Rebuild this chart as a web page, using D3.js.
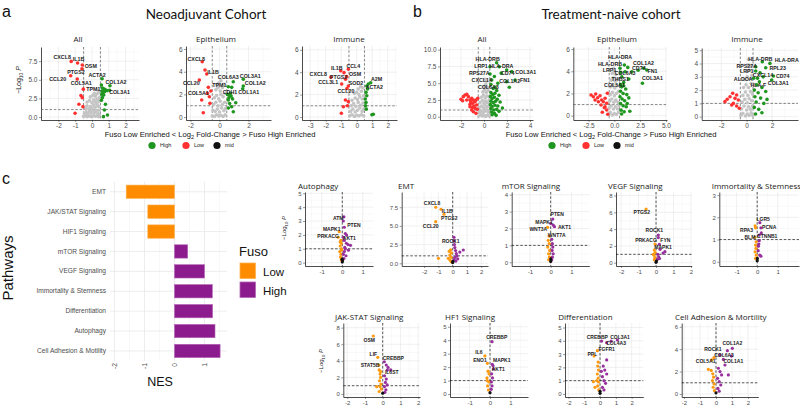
<!DOCTYPE html>
<html><head><meta charset="utf-8">
<script src="https://cdn.jsdelivr.net/npm/d3@7/dist/d3.min.js"></script>
<style>body{margin:0;background:#fff;}svg{display:block;}</style>
</head><body>
<script>
// ================= DATA =================
// volcano points: [log2 fold-change, -log10 P, optional gene label]
// ---- a: Neoadjuvant cohort ----
const aAllMid = [[-0.5,0.1],[-0.4,0.2],[-0.3,0.05],[-0.2,0.15],[-0.1,0.1],[0,0.05],[0.1,0.2],[0.2,0.1],[0.3,0.15],[0.4,0.05],[0.45,0.3],
 [-0.45,0.5],[-0.35,0.7],[-0.25,0.45],[-0.15,0.8],[-0.05,0.55],[0.05,0.9],[0.15,0.6],[0.25,0.85],[0.35,0.5],[0.42,0.9],
 [-0.4,1.2],[-0.3,1.5],[-0.2,1.1],[-0.1,1.4],[0,1.2],[0.1,1.6],[0.2,1.3],[0.3,1.7],[0.4,1.4],
 [-0.3,2.0],[-0.15,2.2],[0,1.9],[0.1,2.3],[0.2,2.0],[0.3,2.4],[0.4,2.1],[0.45,2.6],
 [-0.1,2.7],[0.05,2.9],[0.2,2.8],[0.3,3.1],[0.4,3.3],[0.35,3.6],[0.15,3.2]];
const aAllLow = [[-1.24,7.47,"CXCL8"],[-0.86,7.25,"IL1B"],[-0.58,6.98,"OSM"],[-0.6,6.49,"PTGS2"],[-1.27,5.54,"CCL20"],[-0.88,5.09,"COL5A1"],
 [-0.52,3.74],[-0.66,2.88],[-0.58,2.6],[-0.78,1.71],[-0.54,1.39],[-1.01,0.5]];
const aAllHigh = [[0.6,5.14,"ACTA2"],[1.07,4.2,"COL1A2"],[1.05,3.6,"COL3A1"],[0.62,3.9,"TPM1"],[0.56,4.3],[0.7,3.8],[0.78,3.7],[0.6,3.5],[0.66,3.3],
 [0.75,3.4],[0.9,3.55],[0.58,3.05],[0.7,2.95],[0.62,2.6],[0.56,2.25],[0.8,1.7],[0.74,0.95],[0.92,0.27],[0.68,0.05]];

const aEpiMid = [[-0.5,0.1],[-0.35,0.05],[-0.2,0.2],[-0.05,0.1],[0.1,0.15],[0.25,0.05],[0.4,0.2],[-0.45,0.6],[-0.3,0.5],[-0.15,0.7],[0,0.45],
 [0.15,0.8],[0.3,0.55],[0.42,0.75],[-0.4,1.1],[-0.25,1.3],[-0.1,1.0],[0.05,1.4],[0.2,1.1],[0.35,1.3],[-0.35,1.7],[-0.2,1.9],[-0.05,1.6],
 [0.1,2.0],[0.25,1.8],[0.4,2.1],[-0.25,2.4],[-0.1,2.6],[0.05,2.3],[0.2,2.6],[0.3,2.9],[-0.05,3.0],[0.1,3.2],[-0.15,2.9]];
const aEpiLow = [[-1.19,4.88,"CXCL8"],[-1.0,4.15,"IL1B"],[-0.88,3.8],[-1.39,3.27,"CCL20"],[-0.77,2.62,"COL5A1"],[-0.84,2.09],[-0.7,1.79],
 [-1.23,1.5],[-0.66,1.21],[-1.12,0.38],[-0.6,2.3]];
const aEpiHigh = [[0.95,3.12,"COL6A3"],[0.61,2.68,"TPM1"],[0.84,2.62],[1.64,3.33,"COL3A1"],[1.64,2.74,"COL1A2"],[1.6,2.5,"COL1A1"],[0.72,1.9,"CDH1"],
 [0.55,2.0],[0.65,1.7],[0.8,1.85],[0.9,1.6],[0.6,1.5],[0.75,2.1],[1.12,1.26],[0.84,0.91],[0.95,0.47],[0.61,0.8],[0.7,1.2]];

const aImmMid = [[-0.45,0.1],[-0.3,0.2],[-0.15,0.05],[0,0.15],[0.15,0.1],[0.3,0.2],[0.45,0.1],[-0.4,0.5],[-0.25,0.7],[-0.1,0.45],[0.05,0.6],
 [0.2,0.8],[0.35,0.5],[0.45,0.7],[-0.35,1.0],[-0.2,1.2],[-0.05,0.95],[0.1,1.3],[0.25,1.05],[0.4,1.25],[-0.3,1.5],[-0.1,1.7],[0.05,1.55],
 [0.2,1.8],[0.35,1.6],[0.45,1.9],[-0.15,2.1],[0,2.2],[0.15,2.0],[0.3,2.3],[0.4,2.6],[0.25,2.7],[0.1,2.5]];
const aImmLow = [[-1.03,4.13,"IL1B"],[-0.82,3.96],[-0.54,4.26,"CCL4"],[-0.65,3.6,"OSM"],[-0.72,3.37,"PTGS2"],[-1.66,3.54,"CXCL8"],
 [-0.97,2.95,"CCL3L1"],[-0.54,2.77,"SOD2"],[-0.63,2.55,"CCL20"],[-0.73,1.52],[-0.54,1.37],[-0.86,0.92],[-0.99,0.33],[-0.6,1.0]];
const aImmHigh = [[0.9,3.06,"A2M"],[0.75,2.95],[0.65,2.77,"ACTA2"],[0.7,2.5],[0.6,2.2],[0.65,1.9],[0.55,1.6],[0.6,1.3],[0.57,1.0],[0.62,0.7],
 [1.07,0.24],[0.98,0.2]];

// ---- b: Treatment-naive cohort ----
const bAllMid = [[-0.45,0.1],[-0.3,0.3],[-0.15,0.1],[0,0.2],[0.15,0.05],[0.3,0.25],[0.45,0.1],[-0.4,0.7],[-0.25,0.9],[-0.1,0.6],[0.05,0.8],
 [0.2,1.0],[0.35,0.7],[0.45,0.9],[-0.4,1.4],[-0.2,1.6],[-0.05,1.3],[0.1,1.7],[0.25,1.4],[0.4,1.6],[-0.35,2.1],[-0.15,2.4],[0,2.0],
 [0.15,2.3],[0.3,2.1],[0.45,2.5],[-0.25,2.9],[-0.05,3.2],[0.1,2.8],[0.25,3.1],[0.4,3.0],[-0.1,3.7],[0.05,4.0],[0.2,3.6],[0.35,3.9],
 [0,4.5],[0.15,4.8],[0.3,4.4],[0.2,5.3],[0.1,5.6]];
const bAllLow = [[-2.0,2.59],[-1.8,2.99],[-1.65,3.24],[-1.5,3.34],[-1.36,2.99],[-1.22,2.49],[-1.86,2.39],[-1.5,2.49],[-1.07,2.74],[-0.93,2.49],
 [-0.78,2.24],[-0.99,2.0],[-1.22,1.85],[-0.87,1.6],[-0.64,1.75],[-1.01,1.4],[-0.78,1.25],[-0.58,1.1],[-1.22,1.5],[-0.7,2.49],
 [-0.55,2.74],[-1.07,1.0],[-0.93,0.75],[-0.7,0.5],[-1.16,2.24]];
const bAllHigh = [[1.1,8.06,"HLA-DRB"],[0.52,7.46,"LRP1"],[1.33,7.46,"HLA-DRA"],[1.97,6.97,"CD74"],[2.41,6.72,"COL3A1"],[2.7,5.48,"FN1"],
 [1.97,5.22,"COL1A2"],[0.52,6.37,"RPS27A"],[0.67,5.48,"CXCL14"],[0.96,4.39,"COL6A3"],[2.2,4.39],[1.5,6.5],[0.9,6.0],[1.2,5.0],[0.6,4.8],
 [0.8,4.2],[1.1,3.9],[0.6,3.6],[0.75,3.3],[0.95,3.5],[1.3,3.2],[0.55,3.0],[0.7,2.7],[0.9,2.9],[1.15,2.6],[0.6,2.3],[0.8,2.1],[1.0,2.3],
 [1.4,2.2],[0.55,1.8],[0.7,1.5],[0.95,1.7],[1.2,1.6],[0.6,1.2],[0.85,1.0],[1.1,1.1],[0.65,0.7],[0.9,0.5],[1.3,0.8],[0.7,0.3],[1.05,0.2],[1.6,1.3]];

const bEpiMid = [[-0.55,0.1],[-0.4,0.3],[-0.2,0.05],[0,0.2],[0.2,0.1],[0.4,0.3],[-0.5,0.7],[-0.3,0.9],[-0.1,0.6],[0.1,0.8],[0.3,0.6],[0.45,0.9],
 [-0.45,1.3],[-0.25,1.5],[-0.05,1.2],[0.15,1.4],[0.35,1.2],[-0.4,1.9],[-0.2,2.1],[0,1.8],[0.2,2.0],[0.4,2.2],[-0.35,2.6],[-0.15,2.8],
 [0.05,2.5],[0.25,2.7],[-0.3,3.2],[-0.1,3.4],[0.1,3.1],[0.3,3.3],[-0.2,3.8],[0,4.0],[0.15,3.7],[-0.1,4.25]];
const bEpiLow = [[-2.26,1.86],[-2.04,1.71],[-1.81,1.95],[-1.62,1.62],[-1.39,1.8],[-1.23,1.41],[-1.07,1.26],[-0.9,1.57],[-0.74,1.12],[-1.29,0.96],
 [-0.97,0.72],[-0.74,0.51],[-1.17,0.31],[-0.64,0.13],[-1.55,1.26],[-1.87,1.41],[-0.9,0.81],[-0.68,2.02]];
const bEpiHigh = [[0.97,4.57,"HLA-DRA"],[0.55,4.27,"HLA-DRB"],[0.6,3.9,"LRP1"],[1.04,3.96,"COL6A3"],[1.69,3.96,"CD74"],[2.82,4.27,"COL1A2"],
 [3.14,4.12,"FN1"],[2.72,2.92,"COL3A1"],[0.72,3.51,"THBS1"],[0.6,2.8,"COL5A1"],[1.3,4.35],[2.3,4.1],[1.4,3.3],[0.9,3.0],[0.7,2.6],[1.1,2.4],
 [0.6,2.2],[0.85,2.0],[1.2,1.9],[0.55,1.7],[0.75,1.5],[1.0,1.35],[1.4,1.6],[0.6,1.1],[0.85,0.9],[1.15,0.8],[0.65,0.5],[0.95,0.35],[1.5,0.4],
 [0.7,0.15],[1.25,1.1],[0.9,2.7]];

const bImmMid = [[-0.45,0.1],[-0.3,0.25],[-0.1,0.05],[0.05,0.2],[0.2,0.1],[0.35,0.3],[0.48,0.1],[-0.4,0.6],[-0.2,0.8],[0,0.5],[0.15,0.75],
 [0.3,0.55],[0.45,0.8],[-0.35,1.1],[-0.15,1.3],[0.05,1.05],[0.2,1.35],[0.4,1.2],[-0.3,1.6],[-0.1,1.85],[0.1,1.6],[0.3,1.9],[0.45,1.7],
 [-0.25,2.2],[-0.05,2.4],[0.15,2.2],[0.35,2.5],[-0.15,2.8],[0.05,3.0],[0.25,2.85],[0.4,3.1],[0,3.4],[0.2,3.5],[0.1,3.9],[0.3,3.8],[0.15,4.3]];
const bImmLow = [[-1.71,1.13],[-1.53,1.31],[-1.31,1.5],[-1.1,1.76],[-0.92,1.38],[-0.79,1.63],[-1.05,1.0],[-0.79,0.8],[-0.66,1.26],[-1.18,0.88],[-0.58,0.63]];
const bImmHigh = [[1.23,4.14,"HLA-DRB"],[1.83,4.01,"HLA-DRA"],[0.71,3.76,"RPS27A"],[1.5,3.68,"RPL23"],[0.71,3.44,"LRP1"],[1.05,3.31,"CXCL14"],
 [2.1,3.06,"CD74"],[0.55,2.89,"ALDOA"],[1.97,2.76,"COL3A1"],[1.0,2.63,"HLA-F"],[1.3,3.0],[0.8,2.4],[1.2,2.2],[0.6,2.0],[0.9,1.8],[1.5,1.9],
 [0.65,1.5],[1.1,1.4],[0.75,1.1],[1.35,1.0],[0.6,0.7],[0.95,0.55],[1.2,0.3],[0.7,0.2],[1.6,1.3],[0.85,2.9]];

// ---- c: pathway NES ----
const pathways = ["EMT","JAK/STAT Signaling","HIF1 Signaling","mTOR Signaling","VEGF Signaling","Immortality & Stemness","Differentiation","Autophagy","Cell Adhesion & Motility"];
const nes = [-1.61,-0.89,-0.89,0.44,1.0,1.26,1.27,1.35,1.52];
const fuso = ["Low","Low","Low","High","High","High","High","High","High"];
const nesTicks = [-2,-1,0,1];

// ---- c: pathway volcano plots ----
const autoLow = [[-0.15,2.23,"MAPK1"],[-0.2,1.83,"PRKACG"],[-0.07,1.6],[-0.05,1.4],[-0.1,1.2],[-0.04,1.0],[-0.12,0.8],[-0.06,0.6],[-0.09,0.4],[-0.05,0.2],[-0.1,1.5],[-0.03,0.9]];
const autoHigh = [[0.05,3.0,"ATM"],[0.1,2.55,"PTEN"],[0.05,1.83,"AKT1"],[0.08,3.3],[0.15,2.1],[0.21,1.99],[0.1,1.6],[0.2,1.4],[0.28,1.3],[0.12,1.1],[0.3,0.9],[0.1,0.8],[0.05,0.6],[0.18,0.5],[0.08,0.3],[0.4,1.25],[0.15,1.0]];
const autoMid = [[0,0.05],[0.01,0.15],[-0.01,0.25]];
const emtLow = [[-1.19,7.5,"CXCL8"],[-0.82,7.23,"IL1B"],[-0.61,6.56,"PTGS2"],[-1.19,5.57,"CCL20"],[-1.0,0.67],[-0.31,0.67],[-0.15,1.8],[-0.1,1.4],[-0.2,1.1],[-0.12,0.8],[-0.18,0.4],[-0.1,0.2],[-0.25,1.6]];
const emtHigh = [[0.09,3.48,"ROCK1"],[0.1,3.0],[0.12,2.5],[0.15,2.1],[0.2,1.7],[0.25,1.3],[0.3,1.0],[0.74,1.78],[0.5,1.5],[0.15,0.8],[0.1,0.5],[0.22,0.3],[0.35,0.6]];
const emtMid = [[0,0.1],[0.01,0.25]];
const mtorLow = [[-0.15,2.07,"WNT3A"],[-0.08,1.55],[-0.12,1.3],[-0.07,1.1],[-0.14,0.9],[-0.05,0.7],[-0.1,0.5],[-0.06,0.3],[-0.1,0.15]];
const mtorHigh = [[0.1,2.56,"PTEN"],[0.0,2.3,"MAPK1"],[0.18,2.11,"AKT1"],[0.05,1.36,"WNT7A"],[0.12,2.2],[0.08,1.1],[0.1,0.9],[0.07,0.7],[0.12,0.5],[0.08,0.3],[0.05,0.15]];
const mtorMid = [[0,0.05],[0,0.2]];
const vegfLow = [[-0.57,6.39,"PTGS2"],[-0.06,2.23,"PRKACG"],[-0.1,1.5],[-0.05,1.2],[-0.12,0.9],[-0.07,0.6],[-0.1,0.35],[-0.15,1.0]];
const vegfHigh = [[0.13,3.3,"ROCK1"],[0.13,3.0],[0.19,2.19,"FYN"],[0.23,1.59,"MAPK1"],[0.51,1.31],[0.4,1.15],[0.1,1.0],[0.15,0.7],[0.08,0.4],[0.2,0.5]];
const vegfMid = [[0,0.05],[0.02,0.2]];
const immLow = [[-0.08,1.53,"RPA3"],[-0.11,1.1,"BLM"],[-0.1,1.62],[-0.05,0.9],[-0.08,0.75],[-0.06,0.6],[-0.1,0.45],[-0.05,0.3],[-0.08,0.15]];
const immHigh = [[0.13,1.76,"LGR5"],[0.18,1.53,"PCNA"],[0.1,1.2,"CTNNB1"],[0.2,1.3],[0.1,0.95],[0.08,0.8],[0.06,0.7],[0.12,0.3],[0.18,0.25],[0.05,0.5]];
const immMid = [[0,0.05],[0.01,0.15]];
const jakLow = [[-0.53,6.99,"OSM"],[-0.28,4.42,"LIF"],[-0.21,3.49,"STAT5B"],[-0.2,2.9],[-0.15,2.4],[-0.12,2.0],[-0.18,1.6],[-0.1,1.2],[-0.15,0.9],[-0.08,0.6],[-0.2,0.3],[-0.34,0.88],[-0.12,2.7]];
const jakHigh = [[0.09,3.89,"CREBBP"],[0.26,2.89,"IL6ST"],[0.2,3.5],[0.3,3.2],[0.45,2.9],[0.1,2.2],[0.2,1.8],[0.15,1.4],[0.25,1.1],[0.1,0.9],[0.18,0.5],[0.12,0.2]];
const jakMid = [[0,0.1]];
const hf1Low = [[-0.25,2.83,"IL6"],[-0.13,2.28,"ENO1"],[-0.1,1.7],[-0.05,1.5],[-0.15,1.2],[-0.06,0.9],[-0.12,0.6],[-0.08,0.3],[-0.14,1.0]];
const hf1High = [[0.1,3.89,"CREBBP"],[0.11,2.21,"MAPK1"],[0.15,2.1],[0.16,1.86,"AKT1"],[0.08,1.5],[0.12,1.2],[0.07,0.9],[0.1,0.6],[0.06,0.35]];
const hf1Mid = [[0,0.1]];
const diffLow = [[-0.17,3.26,"PPL"],[-0.38,2.86],[-0.12,2.4],[-0.15,2.1],[-0.1,1.8],[-0.17,1.5],[-0.12,1.2],[-0.1,0.9],[-0.15,0.6],[-0.08,0.3],[-0.42,0.92],[-0.32,0.5],[-0.2,1.0]];
const diffHigh = [[0.1,3.98,"CREBBP"],[1.1,4.06,"COL3A1"],[0.7,3.98,"COL4A3"],[0.42,3.86,"FGFR1"],[0.42,2.56],[0.2,2.1],[0.3,1.8],[0.42,1.5],[0.15,1.3],[0.25,1.0],[0.35,0.8],[0.15,0.5],[0.25,0.3],[0.08,1.7]];
const diffMid = [[0,0.05],[0,0.2]];
const cellLow = [[-0.13,3.24,"ROCK1"],[-0.27,3.04,"COL5A1"],[-0.48,2.2],[-0.3,2.1],[-0.2,1.8],[-0.15,1.5],[-0.22,1.2],[-0.12,0.9],[-0.18,0.6],[-0.1,0.3]];
const cellHigh = [[1.02,4.08,"COL1A2"],[0.71,3.87],[0.25,3.48,"COL6A3"],[0.46,3.09],[0.96,3.39,"COL1A1"],[0.56,2.59],[0.77,1.7],[0.15,2.3],[0.25,2.0],[0.35,1.7],[0.1,1.4],[0.2,1.1],[0.3,0.8],[0.12,0.5],[0.2,0.25]];
const cellMid = [[0,0.1]];

// ================= LAYOUT =================
const LBL = {
 aAll:{CXCL8:[-9,-4.5],IL1B:[1,-4],OSM:[8.5,0.7],PTGS2:[-6,3.3],CCL20:[-13,3.3],COL5A1:[4,3.6],ACTA2:[-5,-4],COL1A2:[6,-4],COL3A1:[10,2],TPM1:[-9,1]},
 aEpi:{CXCL8:[-6,-3],IL1B:[8,2],CCL20:[-8,3.3],COL5A1:[-10,6],COL6A3:[-5,-4.5],TPM1:[-9,-1.6],COL3A1:[7,-3.6],COL1A2:[12,-3],COL1A1:[6,3],CDH1:[0,-4]},
 aImm:{IL1B:[-4,-3],CCL4:[5,-3.3],CXCL8:[-12.7,-3],PTGS2:[-7,-2.6],OSM:[8.4,-2.7],CCL3L1:[-13.4,-1.7],SOD2:[7.7,-3.3],CCL20:[-1,3],A2M:[6,-3.4],ACTA2:[7.5,1.3]},
 bAll:{"HLA-DRB":[-9,-3.4],LRP1:[-9,-0.7],"HLA-DRA":[2,-1.2],CD74:[1,3.5],COL3A1:[14,0],FN1:[10,0],COL1A2:[3,-1],RPS27A:[-10.7,-0.7],CXCL14:[-10,0],COL6A3:[-6.7,0]},
 bEpi:{"HLA-DRA":[-4.3,-7.7],"HLA-DRB":[-10,-4],LRP1:[-11,-2.8],COL6A3:[0,1.2],CD74:[7,-4],COL1A2:[0,-5],FN1:[5.7,1],COL3A1:[10,-5.6],THBS1:[-1.5,2.5],COL5A1:[-6,0]},
 bImm:{"HLA-DRB":[-2,-3],"HLA-DRA":[16.8,-3.4],RPS27A:[-9,-1],RPL23:[12,0.5],LRP1:[-9,0],CXCL14:[3,2],CD74:[9.3,0],ALDOA:[-10.4,0.7],COL3A1:[6.6,2.7],"HLA-F":[-1,3.3]},
 auto:{ATM:[-5,-3.3],PTEN:[9.6,-2.3],MAPK1:[-7.5,-2.7],PRKACG:[-10,-1.3],AKT1:[6,0.4]},
 emt:{CXCL8:[-3.7,-4],IL1B:[6.3,1.4],PTGS2:[5.3,4],CCL20:[-5,4.3],ROCK1:[-3.3,3.4]},
 mtor:{PTEN:[4.5,-4.7],MAPK1:[-6.7,-1.7],AKT1:[10,0.7],WNT3A:[-9.3,2],WNT7A:[5,-4.3]},
 vegf:{PTGS2:[-4.3,2.7],ROCK1:[-4,-5],PRKACG:[-9,-4],FYN:[6,-4.3],MAPK1:[3,-2]},
 imm:{LGR5:[3.3,-3.6],PCNA:[8.3,-1],RPA3:[-9,2.3],CTNNB1:[8,0.7],BLM:[-5,0]},
 jak:{OSM:[-4,4],LIF:[-4.4,-3.3],CREBBP:[9,-4],STAT5B:[-9,0],IL6ST:[4.4,1.7]},
 hf1:{CREBBP:[4.7,-4.4],IL6:[-6,-4.3],ENO1:[-7.4,-3.3],MAPK1:[9.5,-4.3],AKT1:[5,0.3]},
 diff:{CREBBP:[-4.3,-3.7],COL3A1:[2.6,-3.3],COL4A3:[5,2],FGFR1:[0,6],PPL:[-5,3.4]},
 cell:{COL1A2:[0,-5],ROCK1:[-1,-9],COL6A3:[4,0],COL5A1:[-6,1],COL1A1:[2,4.7]}
};
const C = {High:"#1f961f", Low:"#ff3030", mid:"#c4c4c4", cLow:"#ff9a10", cHigh:"#97309c", cMid:"#111111",
           barLow:"#ff8c00", barLowS:"#ffb050", barHigh:"#8c1c8e", barHighS:"#b565b5"};
const FONT = "Liberation Sans, Arial, sans-serif";
const TFONT = "Open Sans, Noto Sans, sans-serif";

const PAB = [
 {id:"aAll",l:41,r:139,t:47,b:120,xd:[-3.04,2.8],yd:[-0.4,9.4],xt:[-2,-1,0,1,2],yt:[0,2.5,5,7.5],yf:1,xf:0,title:"All",tx:78,ty:42,d:[aAllMid,aAllLow,aAllHigh]},
 {id:"aEpi",l:186,r:271,t:46,b:120,xd:[-2.31,3.55],yd:[-0.26,6.27],xt:[-2,0,2],yt:[0,2,4,6],yf:0,xf:0,title:"Epithelium",tx:216,ty:42,d:[aEpiMid,aEpiLow,aEpiHigh]},
 {id:"aImm",l:302,r:397,t:46,b:120,xd:[-3.53,2.6],yd:[-0.27,6.34],xt:[-3,-2,-1,0,1,2],yt:[0,2,4,6],yf:0,xf:0,title:"Immune",tx:349,ty:42,d:[aImmMid,aImmLow,aImmHigh]},
 {id:"bAll",l:440,r:533,t:47,b:120,xd:[-3.83,4.26],yd:[-0.49,10.4],xt:[-2,0,2,4],yt:[0,2.5,5,7.5,10],yf:1,xf:0,title:"All",tx:482,ty:42,d:[bAllMid,bAllLow,bAllHigh]},
 {id:"bEpi",l:573.3,r:667,t:47,b:120,xd:[-3.98,5.1],yd:[-0.39,6.19],xt:[-2.5,0,2.5,5],yt:[0,2,4,6],yf:0,xf:1,title:"Epithelium",tx:617,ty:42,d:[bEpiMid,bEpiLow,bEpiHigh]},
 {id:"bImm",l:701.7,r:798,t:48,b:120,xd:[-3.54,4.04],yd:[-0.25,5.17],xt:[-2,0,2],yt:[0,1,2,3,4,5],yf:0,xf:0,title:"Immune",tx:747,ty:42,d:[bImmMid,bImmLow,bImmHigh]}
];
const PC = [
 {id:"auto",l:305,r:373,t:192,b:266,xd:[-1.82,1.5],yd:[-0.24,5.09],xt:[-1,0,1],yt:[0,1,2,3,4,5],yf:0,title:"Autophagy",tx:298,ty:189,d:[autoLow,autoHigh,autoMid]},
 {id:"emt",l:401.7,r:488,t:192,b:266,xd:[-3.57,2.47],yd:[-0.36,9.54],xt:[-2,-1,0,1,2],yt:[0,2.5,5,7.5],yf:1,title:"EMT",tx:398,ty:189,d:[emtLow,emtHigh,emtMid]},
 {id:"mtor",l:511.7,r:589.3,t:192,b:266,xd:[-1.88,1.86],yd:[-0.22,4.16],xt:[-1,0,1],yt:[0,1,2,3,4],yf:0,title:"mTOR Signaling",tx:501.7,ty:189,d:[mtorLow,mtorHigh,mtorMid]},
 {id:"vegf",l:616,r:691.7,t:192,b:266,xd:[-2.29,2.04],yd:[-0.39,8.42],xt:[-2,-1,0,1,2],yt:[0,2,4,6,8],yf:0,title:"VEGF Signaling",tx:608,ty:189,d:[vegfLow,vegfHigh,vegfMid]},
 {id:"imm",l:719.3,r:799,t:192,b:266,xd:[-1.84,2.03],yd:[-0.19,3.14],xt:[-1,0,1],yt:[0,1,2,3],yf:0,title:"Immortality & Stemness",tx:711.7,ty:189,d:[immLow,immHigh,immMid]},
 {id:"jak",l:343.3,r:420,t:323,b:397,xd:[-2.22,2.1],yd:[-0.36,8.56],xt:[-2,-1,0,1,2],yt:[0,2,4,6,8],yf:0,title:"JAK-STAT Signaling",tx:335,ty:320,d:[jakLow,jakHigh,jakMid]},
 {id:"hf1",l:450,r:528,t:323,b:397,xd:[-1.97,1.87],yd:[-0.22,5.28],xt:[-1,0,1],yt:[0,1,2,3,4,5],yf:0,title:"HF1 Signaling",tx:445,ty:320,d:[hf1Low,hf1High,hf1Mid]},
 {id:"diff",l:565,r:643.3,t:323,b:397,xd:[-2.22,2.74],yd:[-0.23,5.34],xt:[-2,-1,0,1,2],yt:[0,1,2,3,4,5],yf:0,title:"Differentiation",tx:558.3,ty:320,d:[diffLow,diffHigh,diffMid]},
 {id:"cell",l:681.7,r:758.3,t:323,b:397,xd:[-2.14,2.64],yd:[-0.27,6.34],xt:[-2,-1,0,1,2],yt:[0,2,4,6],yf:0,title:"Cell Adhesion & Mortility",tx:675,ty:320,d:[cellLow,cellHigh,cellMid]}
];

// ================= DRAW =================
const svg = d3.select("body").append("svg").attr("width",800).attr("height",408)
  .style("background","#fff");

function halfSteps(t, dom){
  const s = t[1]-t[0], out=[];
  [t[0]-s/2, ...t.map(v=>v+s/2)].forEach(v=>{ if(v>dom[0] && v<dom[1]) out.push(v); });
  return out;
}
function styleAxis(sel, fs){
  sel.attr("font-size",fs).attr("font-family",FONT);
  sel.select(".domain").attr("stroke","#000").attr("stroke-width",0.7);
  sel.selectAll(".tick line").attr("stroke","#333").attr("stroke-width",0.5);
  sel.selectAll(".tick text").attr("fill","#4d4d4d");
}

function volcano(P, kind){
  const g = svg.append("g");
  const x = d3.scaleLinear().domain(P.xd).range([P.l,P.r]);
  const y = d3.scaleLinear().domain(P.yd).range([P.b,P.t]);
  // grid
  g.append("g").selectAll("line").data(halfSteps(P.xt,P.xd)).join("line")
    .attr("x1",d=>x(d)).attr("x2",d=>x(d)).attr("y1",P.t).attr("y2",P.b).attr("stroke","#f3f3f3").attr("stroke-width",0.5);
  g.append("g").selectAll("line").data(halfSteps(P.yt,P.yd)).join("line")
    .attr("y1",d=>y(d)).attr("y2",d=>y(d)).attr("x1",P.l).attr("x2",P.r).attr("stroke","#f3f3f3").attr("stroke-width",0.5);
  g.append("g").selectAll("line").data(P.xt).join("line")
    .attr("x1",d=>x(d)).attr("x2",d=>x(d)).attr("y1",P.t).attr("y2",P.b).attr("stroke","#e6e6e6").attr("stroke-width",0.6);
  g.append("g").selectAll("line").data(P.yt).join("line")
    .attr("y1",d=>y(d)).attr("y2",d=>y(d)).attr("x1",P.l).attr("x2",P.r).attr("stroke","#e6e6e6").attr("stroke-width",0.6);
  // axes
  const fs = kind==="ab" ? 6.5 : 6;
  const ax = g.append("g").attr("transform",`translate(0,${P.b})`)
    .call(d3.axisBottom(x).tickValues(P.xt).tickSize(2).tickSizeOuter(0).tickPadding(1.5).tickFormat(d=>d.toFixed(P.xf||0)));
  styleAxis(ax, fs);
  const ay = g.append("g").attr("transform",`translate(${P.l},0)`)
    .call(d3.axisLeft(y).tickValues(P.yt).tickSize(2).tickSizeOuter(0).tickPadding(1.5).tickFormat(d=>d.toFixed(P.yf)));
  styleAxis(ay, fs);
  // threshold lines
  const vls = kind==="ab" ? [-0.5,0.5] : [0];
  g.append("g").selectAll("line").data(vls).join("line")
    .attr("x1",d=>x(d)).attr("x2",d=>x(d)).attr("y1",P.t).attr("y2",P.b)
    .attr("stroke", kind==="ab"?"#555":"#111").attr("stroke-width",0.7).attr("stroke-dasharray","2.5,1.8");
  g.append("line").attr("x1",P.l).attr("x2",P.r).attr("y1",y(1)).attr("y2",y(1))
    .attr("stroke", kind==="ab"?"#555":"#111").attr("stroke-width",0.7).attr("stroke-dasharray","2.5,1.8");
  // points
  const cols = kind==="ab" ? [C.mid,C.Low,C.High] : [C.cLow,C.cHigh,C.cMid];
  const rad = kind==="ab" ? 1.8 : 1.6;
  P.d.forEach((arr,i)=>{
    g.append("g").selectAll("circle").data(arr).join("circle")
      .attr("cx",d=>x(d[0])).attr("cy",d=>y(d[1])).attr("r",rad).attr("fill",cols[i]);
  });
  // labels
  const offs = LBL[P.id]||{};
  const labelled = P.d.flat().filter(d=>d[2]);
  g.append("g").selectAll("text").data(labelled).join("text")
    .attr("x",d=>x(d[0])+(offs[d[2]]||[0,-4])[0]).attr("y",d=>y(d[1])+(offs[d[2]]||[0,-4])[1])
    .attr("text-anchor","middle").attr("dominant-baseline","central")
    .attr("font-family",FONT).attr("font-size",kind==="ab"?5.3:5).attr("font-weight","bold").attr("fill","#222")
    .text(d=>d[2]);
  // title
  g.append("text").attr("x",P.tx).attr("y",P.ty).attr("text-anchor",kind==="ab"?"middle":"start")
    .attr("font-family",TFONT).attr("font-size",8).attr("fill","#222").text(P.title);
}

PAB.forEach(P=>volcano(P,"ab"));
PC.forEach(P=>volcano(P,"c"));

// y axis labels (-log10 P)
function logLabel(xp, yp, fs){
  const t = svg.append("text").attr("transform",`translate(${xp},${yp}) rotate(-90)`)
    .attr("text-anchor","middle").attr("font-family",FONT).attr("font-size",fs).attr("fill","#222");
  t.append("tspan").text("\u2212Log");
  t.append("tspan").attr("font-size",fs*0.7).attr("dy",fs*0.3).text("10");
  t.append("tspan").attr("dy",-fs*0.3).text(" ");
  t.append("tspan").attr("font-style","italic").text("P");
}
logLabel(21,80,7);
logLabel(286,228,6);
logLabel(323,361,6);

// x labels for a/b
function fcLabel(cx, cy){
  const t = svg.append("text").attr("x",cx).attr("y",cy).attr("text-anchor","middle")
    .attr("font-family",FONT).attr("font-size",7.6).attr("fill","#111");
  t.append("tspan").text("Fuso Low Enriched < Log");
  t.append("tspan").attr("font-size",5.5).attr("dy",1.8).text("2");
  t.append("tspan").attr("dy",-1.8).text(" Fold-Change > Fuso High Enriched");
}
fcLabel(210,137);
fcLabel(611,137);

// legends a/b
const legItems = [["High",C.High],["Low",C.Low],["mid","#111"]];
function abLegend(x0){
  const steps=[0,34,65];
  legItems.forEach((it,i)=>{
    svg.append("circle").attr("cx",x0+steps[i]).attr("cy",145.5).attr("r",3.6).attr("fill",it[1]);
    svg.append("text").attr("x",x0+steps[i]+8).attr("y",147.3).attr("font-family",FONT).attr("font-size",5.5).attr("fill","#222").text(it[0]);
  });
}
abLegend(152);
abLegend(552);

// headings
const heads = [["a",2,17,16,FONT,"start"],["b",413,17,16,FONT,"start"],["c",2,184,16,FONT,"start"],
  ["Neoadjuvant Cohort",206,19,13.5,"Lato, sans-serif","middle"],["Treatment-naive cohort",611,19,13.5,"Lato, sans-serif","middle"]];
heads.forEach(h=>svg.append("text").attr("x",h[1]).attr("y",h[2]).attr("font-size",h[3]).attr("font-family",h[4])
  .attr("text-anchor",h[5]).attr("fill","#111").text(h[0]));

// ---- bar chart ----
const xb = d3.scaleLinear().domain([-2.15,1.75]).range([110,227]);
const yb = d3.scaleBand().domain(pathways).range([181.8,360.9]).paddingInner(0.33).paddingOuter(0.165);
const gb = svg.append("g");
gb.selectAll(".mn").data(halfSteps(nesTicks,xb.domain())).join("line")
  .attr("x1",d=>xb(d)).attr("x2",d=>xb(d)).attr("y1",181.8).attr("y2",360.9).attr("stroke","#f3f3f3").attr("stroke-width",0.6);
gb.selectAll(".mj").data(nesTicks).join("line")
  .attr("x1",d=>xb(d)).attr("x2",d=>xb(d)).attr("y1",181.8).attr("y2",360.9).attr("stroke","#e8e8e8").attr("stroke-width",0.8);
gb.selectAll(".hz").data(pathways).join("line")
  .attr("x1",110).attr("x2",227).attr("y1",d=>yb(d)+yb.bandwidth()/2).attr("y2",d=>yb(d)+yb.bandwidth()/2)
  .attr("stroke","#e8e8e8").attr("stroke-width",0.8);
gb.selectAll("rect").data(pathways).join("rect")
  .attr("x",(d,i)=>xb(Math.min(0,nes[i]))).attr("width",(d,i)=>Math.abs(xb(nes[i])-xb(0)))
  .attr("y",d=>yb(d)).attr("height",yb.bandwidth())
  .attr("fill",(d,i)=>fuso[i]==="Low"?C.barLow:C.barHigh)
  .attr("stroke",(d,i)=>fuso[i]==="Low"?C.barLowS:C.barHighS).attr("stroke-width",0.6);
const ayb = gb.append("g").attr("transform","translate(106,0)").call(d3.axisLeft(yb).tickSize(0).tickPadding(0));
ayb.select(".domain").remove();
ayb.selectAll("text").attr("font-size",6.6).attr("font-family",FONT).attr("fill","#4d4d4d");
const axb = gb.append("g").attr("transform","translate(0,363)").call(d3.axisBottom(xb).tickValues(nesTicks).tickSize(0).tickFormat(d=>String(d)));
axb.select(".domain").remove();
axb.selectAll("text").attr("font-size",6.8).attr("font-family",FONT).attr("fill","#4d4d4d")
  .attr("transform","rotate(-90)").attr("x",0).attr("y",0).attr("dy","0.35em").attr("text-anchor","end");
svg.append("text").attr("x",160).attr("y",386).attr("text-anchor","middle").attr("font-family",FONT).attr("font-size",12.5).attr("fill","#111").text("NES");
svg.append("text").attr("transform","translate(13,268) rotate(-90)").attr("text-anchor","middle").attr("font-family",FONT).attr("font-size",15).attr("fill","#111").text("Pathways");
// legend
svg.append("text").attr("x",239).attr("y",256).attr("font-family",FONT).attr("font-size",13).attr("fill","#111").text("Fuso");
[["Low",C.barLow,C.barLowS],["High",C.barHigh,C.barHighS]].forEach((it,i)=>{
  svg.append("rect").attr("x",240).attr("y",263+i*19).attr("width",15.5).attr("height",15.5).attr("fill",it[1]).attr("stroke",it[2]).attr("stroke-width",0.8);
  svg.append("text").attr("x",263).attr("y",275.5+i*19).attr("font-family",FONT).attr("font-size",11.5).attr("fill","#111").text(it[0]);
});
</script>
</body></html>
